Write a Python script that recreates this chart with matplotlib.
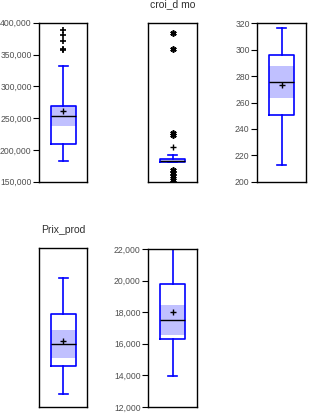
import numpy as np
import matplotlib.pyplot as plt

titles = ['', 'croi_d mo', '', 'Prix_prod', '']
whislo = [182000, 12.2, 213.0, 8.2, 13950]
q1 = [210000, 12.2, 250.3, 25.8, 16280]
med = [253000, 13.2, 275.3, 39.8, 17490]
q3 = [268500, 14.1, 295.8, 58.5, 19770]
whishi = [332000, 16.8, 316.7, 81.1, 21980]
means = [261000, 21.8, 273.0, 41.9, 18010]
cilo = [238000, 12.2, 263.4, 31.2, 16580]
cihi = [268500, 14.1, 287.7, 48.6, 18440]
fliers = [[388400, 380100, 371800, 358800, 357200],
          [93.3, 83.6, 30.4, 29.6, 7.4, 5.7, 3.8, 1.1],
          [], [], []]
flier_marker = ['+', (6, 2, 0), '+', '+', '+']
ylims = [(150000, 400000), (0, 100), (200, 320), (0, 100), (12000, 22000)]
yticks = [[150000, 200000, 250000, 300000, 350000, 400000],
          [],
          [200, 220, 240, 260, 280, 300, 320],
          [],
          [12000, 14000, 16000, 18000, 20000, 22000]]

# axes rectangles in pixels (left, top, right, bottom) of a 309x418 image
rects_px = [(39.3, 22.7, 87.3, 181.7),
            (148.3, 22.7, 196.7, 181.7),
            (257.3, 23.3, 306.0, 181.7),
            (39.3, 248.3, 87.3, 407.3),
            (148.3, 249.0, 196.7, 407.0)]

W, H = 309, 418
fig = plt.figure(figsize=(W / 100, H / 100), dpi=100)
plt.rcParams['font.family'] = ['Liberation Sans', 'DejaVu Sans']

blue = '#0000ff'
band = '#c0c0ff'

for i in range(5):
    l, t, r, b = rects_px[i]
    ax = fig.add_axes([l / W, 1 - b / H, (r - l) / W, (b - t) / H])
    stats = [dict(med=med[i], q1=q1[i], q3=q3[i], whislo=whislo[i],
                  whishi=whishi[i], mean=means[i], fliers=fliers[i])]
    ax.bar(1, cihi[i] - cilo[i], bottom=cilo[i], width=0.52, color=band,
           zorder=1, linewidth=0)
    ax.bxp(stats, positions=[1], widths=0.52, capwidths=0.19, showmeans=True,
           boxprops=dict(color=blue, linewidth=1.2),
           whiskerprops=dict(color=blue, linewidth=1.2),
           capprops=dict(color=blue, linewidth=1.2),
           medianprops=dict(color='black', linewidth=1.0),
           meanprops=dict(marker='+', markeredgecolor='black',
                          markersize=4, markeredgewidth=1.0),
           flierprops=dict(marker=flier_marker[i], markeredgecolor='black',
                           markerfacecolor='black', markersize=4.5,
                           markeredgewidth=1.2, linestyle='none'))
    ax.set_xlim(0.5, 1.5)
    ax.set_ylim(*ylims[i])
    ax.set_xticks([])
    ax.set_yticks(yticks[i])
    if yticks[i]:
        ax.set_yticklabels(['{:,}'.format(v) for v in yticks[i]])
    ax.tick_params(axis='y', length=4, width=0.8, pad=1.5,
                   labelsize=6.2, labelcolor='#505050')
    for s in ax.spines.values():
        s.set_linewidth(1.0)
    if titles[i]:
        ax.set_title(titles[i], fontsize=7.5, color='#303030', pad=11)

fig.savefig('out.png', dpi=100)
